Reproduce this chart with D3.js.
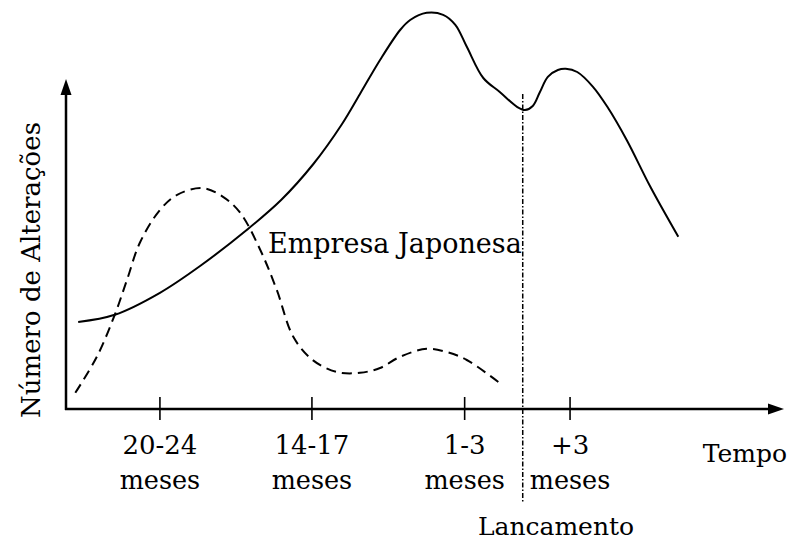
<!DOCTYPE html>
<html>
<head>
<meta charset="utf-8">
<script src="https://cdn.jsdelivr.net/npm/d3@7"></script>
<style>
  body { margin: 0; background: #fff; }
  text { font-family: "DejaVu Serif", serif; fill: #000; }
</style>
</head>
<body>
<svg id="chart" width="793" height="540"></svg>
<script>
// time axis runs 0..100, "number of changes" runs 0..100 (no units in the source)
const tickPos = [13.1, 34.3, 55.6, 70.3];
const tickLabels = ["20-24", "14-17", "1-3", "+3"];
const tickUnit = "meses";
const launchPos = 63.7;

const japanX = [1.7, 6.8, 13.1, 18.7, 25.2, 30.0, 34.5, 38.5, 41.0, 43.8, 46.6, 48.0, 50.3, 52.6, 54.3, 55.9, 58.2, 60.5, 62.9, 64.0, 65.1, 66.1, 67.2, 68.6, 69.7, 71.3, 73.5, 75.5, 78.2, 81.5, 85.4];
const japanY = [22.0, 23.8, 29.3, 36.0, 45.0, 52.5, 61.5, 71.5, 79.0, 87.5, 95.0, 97.5, 99.3, 98.8, 96.3, 90.8, 83.0, 79.5, 75.8, 75.0, 76.0, 79.5, 83.3, 85.0, 85.3, 84.5, 80.8, 75.8, 67.5, 55.8, 43.3];

const otherX = [1.3, 4.3, 6.8, 8.5, 10.3, 13.1, 15.5, 19.0, 21.9, 24.3, 27.1, 29.4, 31.7, 34.4, 37.8, 41.0, 43.8, 46.6, 50.3, 53.1, 55.9, 60.3];
const otherY = [4.3, 13.3, 23.8, 32.5, 41.8, 50.0, 53.8, 55.5, 53.3, 49.3, 40.0, 30.0, 18.3, 12.5, 9.5, 9.3, 10.5, 13.3, 15.3, 14.5, 12.5, 7.0];

const svg = d3.select("#chart");

const x = d3.scaleLinear().domain([0, 100]).range([66, 783]);
const y = d3.scaleLinear().domain([0, 100]).range([410, 10]);

const line = d3.line()
    .x(d => x(d[0]))
    .y(d => y(d[1]))
    .curve(d3.curveCatmullRom.alpha(0.5));

// axes
const axisY = 409;
svg.append("line")
    .attr("x1", 66).attr("x2", 66)
    .attr("y1", axisY + 1).attr("y2", 92)
    .attr("stroke", "#000").attr("stroke-width", 2.5);
svg.append("path")
    .attr("d", "M66,79 L60.5,95 L71.5,95 Z")
    .attr("fill", "#000");

svg.append("line")
    .attr("x1", 65).attr("x2", 772)
    .attr("y1", axisY).attr("y2", axisY)
    .attr("stroke", "#000").attr("stroke-width", 2.5);
svg.append("path")
    .attr("d", `M784,${axisY} L768,${axisY - 5.5} L768,${axisY + 5.5} Z`)
    .attr("fill", "#000");

// ticks + two-line labels
const ticks = svg.append("g").selectAll("g")
    .data(tickPos).enter()
    .append("g");
ticks.append("line")
    .attr("x1", d => x(d)).attr("x2", d => x(d))
    .attr("y1", axisY - 12).attr("y2", axisY + 11)
    .attr("stroke", "#000").attr("stroke-width", 1.6);
ticks.append("text")
    .attr("x", d => x(d)).attr("y", 454)
    .attr("text-anchor", "middle")
    .style("font-size", "26px")
    .text((d, i) => tickLabels[i]);
ticks.append("text")
    .attr("x", d => x(d)).attr("y", 489)
    .attr("text-anchor", "middle")
    .style("font-size", "25.5px")
    .text(tickUnit);

// launch line
svg.append("line")
    .attr("x1", x(launchPos)).attr("x2", x(launchPos))
    .attr("y1", 94).attr("y2", 502)
    .attr("stroke", "#000").attr("stroke-width", 1.5)
    .attr("stroke-dasharray", "5,2,1.5,2");

// curves
svg.append("path")
    .datum(otherX.map((v, i) => [v, otherY[i]]))
    .attr("d", line)
    .attr("fill", "none").attr("stroke", "#000")
    .attr("stroke-width", 2).attr("stroke-dasharray", "10,6");

svg.append("path")
    .datum(japanX.map((v, i) => [v, japanY[i]]))
    .attr("d", line)
    .attr("fill", "none").attr("stroke", "#000")
    .attr("stroke-width", 2);

// labels
svg.append("text")
    .attr("x", 268).attr("y", 253)
    .style("font-size", "27px")
    .text("Empresa Japonesa");

svg.append("text")
    .attr("x", 745).attr("y", 462)
    .attr("text-anchor", "middle")
    .style("font-size", "25px")
    .text("Tempo");

svg.append("text")
    .attr("x", 556).attr("y", 535)
    .attr("text-anchor", "middle")
    .style("font-size", "25px")
    .text("Lancamento");

svg.append("text")
    .attr("transform", "translate(40,270) rotate(-90)")
    .attr("text-anchor", "middle")
    .style("font-size", "26px")
    .text("Número de Alterações");
</script>
</body>
</html>
